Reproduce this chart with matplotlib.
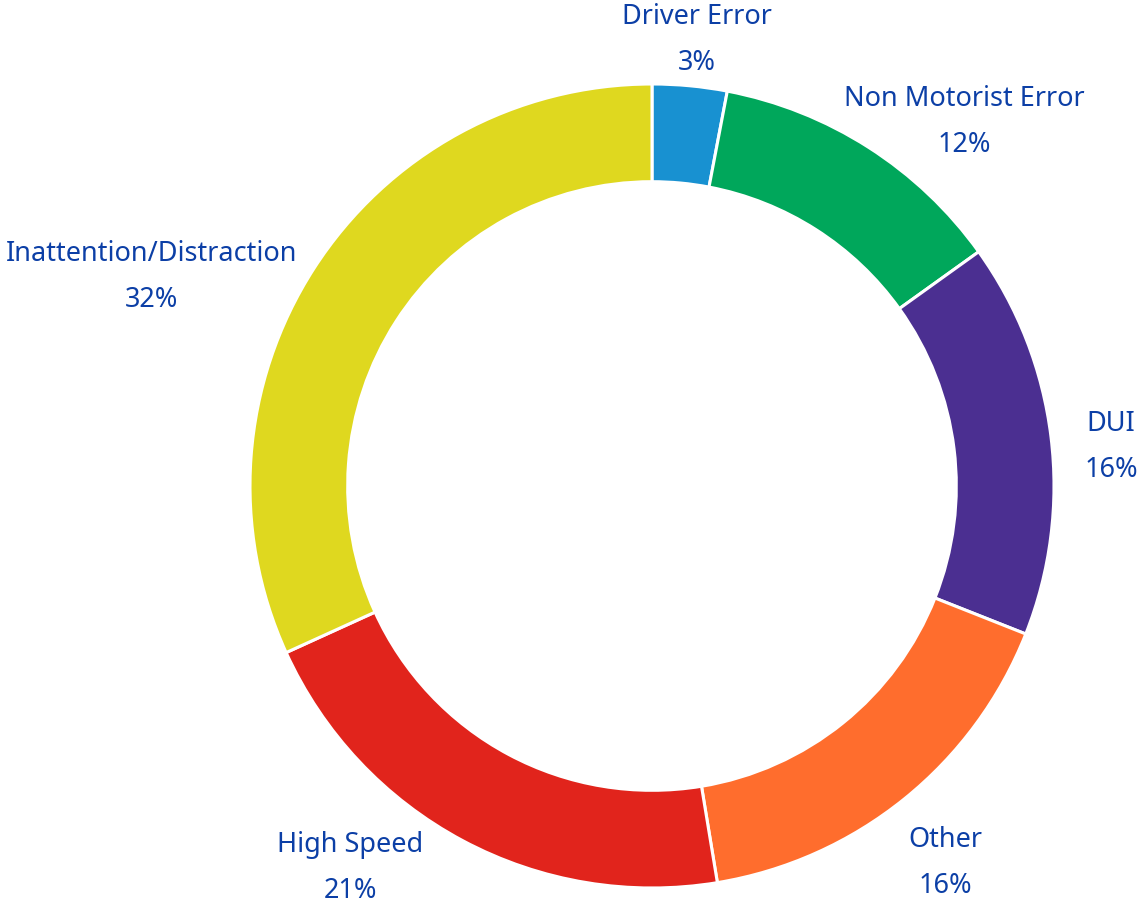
import matplotlib
matplotlib.use("Agg")
import matplotlib.pyplot as plt

# Datos del gráfico (porcentajes, sentido horario desde las 12)
categorias = ['Driver Error', 'Non Motorist Error', 'DUI', 'Other',
              'High Speed', 'Inattention/Distraction']
valores = [3.0, 12.1, 15.9, 16.4, 20.8, 31.8]

colores = ['#1891d1', '#00a75b', '#4b2f91', '#ff6d2d', '#e1241c', '#dfd81f']
color_texto = '#0c3fa6'

# posiciones de las etiquetas (centro del bloque de texto, radio exterior = 1)
pos_etiquetas = [(0.112, 1.109), (0.776, 0.905), (1.142, 0.097),
                 (0.729, -0.938), (-0.750, -0.950), (-1.244, 0.520)]

fig = plt.figure(figsize=(11.41, 9.05), dpi=100)
ax = fig.add_axes([0, 0, 1, 1])

ax.pie(valores, colors=colores, startangle=90, counterclock=False,
       radius=1.0, wedgeprops=dict(width=0.243, edgecolor='white', linewidth=2.2))

for nombre, valor, (x, y) in zip(categorias, valores, pos_etiquetas):
    ax.text(x, y, f'{nombre}\n{round(valor)}%', ha='center', va='center',
            fontsize=19.5, color=color_texto, family='Noto Sans', linespacing=1.85)

ax.set_xlim(-652 / 402, (1141 - 652) / 402)
ax.set_ylim(-(905 - 486) / 402, 486 / 402)
ax.set_aspect('equal')
ax.axis('off')

fig.savefig('out.png', dpi=100)
